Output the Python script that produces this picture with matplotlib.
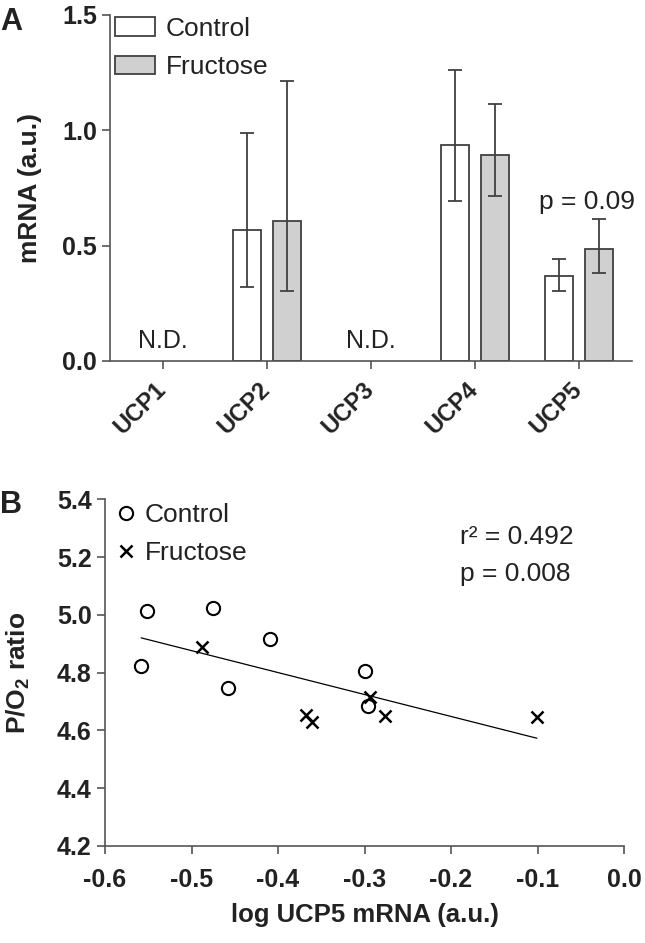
import numpy as np
import matplotlib
matplotlib.use("Agg")
import matplotlib.pyplot as plt

plt.rcParams['font.family'] = ['Liberation Sans', 'DejaVu Sans']
plt.rcParams['mathtext.fontset'] = 'custom'
plt.rcParams['mathtext.rm'] = 'Liberation Sans'
plt.rcParams['mathtext.bf'] = 'Liberation Sans:bold'

# Panel A data: UCP mRNA (N.D. = not detected -> nan)
genes = ['UCP1', 'UCP2', 'UCP3', 'UCP4', 'UCP5']
ctrl_mean = [np.nan, 0.568, np.nan, 0.937, 0.370]
ctrl_lo = [np.nan, 0.248, np.nan, 0.243, 0.065]
ctrl_hi = [np.nan, 0.421, np.nan, 0.325, 0.074]
fruc_mean = [np.nan, 0.607, np.nan, 0.894, 0.486]
fruc_lo = [np.nan, 0.303, np.nan, 0.178, 0.103]
fruc_hi = [np.nan, 0.608, np.nan, 0.220, 0.129]

# Panel B data: log UCP5 mRNA vs P/O2 ratio
ctrl_x = [-0.558, -0.552, -0.475, -0.458, -0.409, -0.299, -0.296]
ctrl_y = [4.823, 5.015, 5.025, 4.746, 4.916, 4.807, 4.685]
fruc_x = [-0.488, -0.368, -0.361, -0.294, -0.276, -0.101]
fruc_y = [4.890, 4.654, 4.630, 4.715, 4.650, 4.646]

txt = "#222222"
edge = "#404040"
grey = "#d0d0d0"

fig = plt.figure(figsize=(6.45, 9.43), dpi=100)
fig.patch.set_facecolor("white")

def style_axes(ax):
    for s in ['top', 'right']:
        ax.spines[s].set_visible(False)
    for s in ['left', 'bottom']:
        ax.spines[s].set_color("#555555")
        ax.spines[s].set_linewidth(1.2)
    ax.tick_params(direction='out', length=6, width=1.2, color="#555555",
                   labelsize=18, labelcolor=txt)
    for lab in ax.get_xticklabels() + ax.get_yticklabels():
        lab.set_fontweight('bold')

# ---- Panel A ----
axA = fig.add_axes([0.1705, 0.6172, 0.8095, 0.3669])
x = np.arange(len(genes))
det = [i for i in range(len(genes)) if not np.isnan(ctrl_mean[i])]
xd = x[det]
cm = np.array(ctrl_mean)[det]
fm = np.array(fruc_mean)[det]
off = 0.19
w = 0.27
axA.bar(xd - off, cm, w, color="white", edgecolor=edge, linewidth=1.3, label="Control", zorder=2)
axA.bar(xd + off, fm, w, color=grey, edgecolor=edge, linewidth=1.3, label="Fructose", zorder=2)
axA.errorbar(xd - off, cm, yerr=[np.array(ctrl_lo)[det], np.array(ctrl_hi)[det]],
             fmt='none', ecolor=edge, elinewidth=1.3, capsize=5, capthick=1.3, zorder=3)
axA.errorbar(xd + off, fm, yerr=[np.array(fruc_lo)[det], np.array(fruc_hi)[det]],
             fmt='none', ecolor=edge, elinewidth=1.3, capsize=5, capthick=1.3, zorder=3)
for i in range(len(genes)):
    if np.isnan(ctrl_mean[i]):
        axA.text(x[i], 0.087, "N.D.", ha='center', va='center', fontsize=18, color=txt)
axA.text(x[4] + 0.08, 0.69, "p = 0.09", ha='center', va='center', fontsize=19, color=txt)

axA.set_xlim(-0.51, 4.51)
axA.set_ylim(0, 1.5)
axA.set_yticks([0.0, 0.5, 1.0, 1.5])
axA.set_yticklabels(["0.0", "0.5", "1.0", "1.5"])
axA.set_xticks(x)
axA.set_xticklabels(genes, rotation=45, ha='right', va='center', rotation_mode='anchor')
style_axes(axA)
axA.tick_params(axis='x', pad=12, labelsize=17)
axA.set_ylabel("mRNA (a.u.)", fontsize=19, fontweight='bold', color=txt, labelpad=14)
leg = axA.legend(loc='upper left', bbox_to_anchor=(0.0, 1.01), frameon=False, fontsize=19,
                 handlelength=1.5, handleheight=0.7, handletextpad=0.4, labelspacing=0.55,
                 borderaxespad=0.1, borderpad=0.1)
for t in leg.get_texts():
    t.set_color(txt)
fig.text(0.0, 0.993, "A", fontsize=22, fontweight='bold', color=txt, va='top')

# ---- Panel B ----
axB = fig.add_axes([0.1628, 0.1029, 0.8047, 0.3676])
axB.plot(ctrl_x, ctrl_y, 'o', mfc='none', mec='black', ms=9.5, mew=1.5, label="Control", zorder=3)
axB.plot(fruc_x, fruc_y, 'x', color='black', ms=8, mew=1.8, label="Fructose", zorder=3)
all_x = np.array(ctrl_x + fruc_x)
all_y = np.array(ctrl_y + fruc_y)
slope, icpt = np.polyfit(all_x, all_y, 1)
fx = np.array([all_x.min(), all_x.max()])
axB.plot(fx, slope * fx + icpt, color='black', lw=0.9, zorder=2)
axB.text(-0.19, 5.27, "r² = 0.492", fontsize=19, color=txt, va='center')
axB.text(-0.19, 5.14, "p = 0.008", fontsize=19, color=txt, va='center')

axB.set_xlim(-0.6, 0.0)
axB.set_ylim(4.2, 5.4)
axB.set_xticks(np.round(np.arange(-0.6, 0.01, 0.1), 1))
axB.set_xticklabels(["-0.6", "-0.5", "-0.4", "-0.3", "-0.2", "-0.1", "0.0"])
axB.set_yticks(np.round(np.arange(4.2, 5.41, 0.2), 1))
axB.set_yticklabels(["4.2", "4.4", "4.6", "4.8", "5.0", "5.2", "5.4"])
style_axes(axB)
axB.tick_params(axis='x', pad=10)
axB.set_xlabel("log UCP5 mRNA (a.u.)", fontsize=18.5, fontweight='bold', color=txt, labelpad=8)
axB.set_ylabel("P/O$_\\mathregular{2}$ ratio", fontsize=19, fontweight='bold', color=txt, labelpad=18)
legB = axB.legend(loc='upper left', bbox_to_anchor=(0.015, 1.005), frameon=False, fontsize=19,
                  handlelength=0.6, handletextpad=0.4, labelspacing=0.55, borderaxespad=0.1,
                  borderpad=0.1)
for t in legB.get_texts():
    t.set_color(txt)
fig.text(0.0, 0.48, "B", fontsize=22, fontweight='bold', color=txt, va='top')

fig.savefig("out.png", dpi=100)
